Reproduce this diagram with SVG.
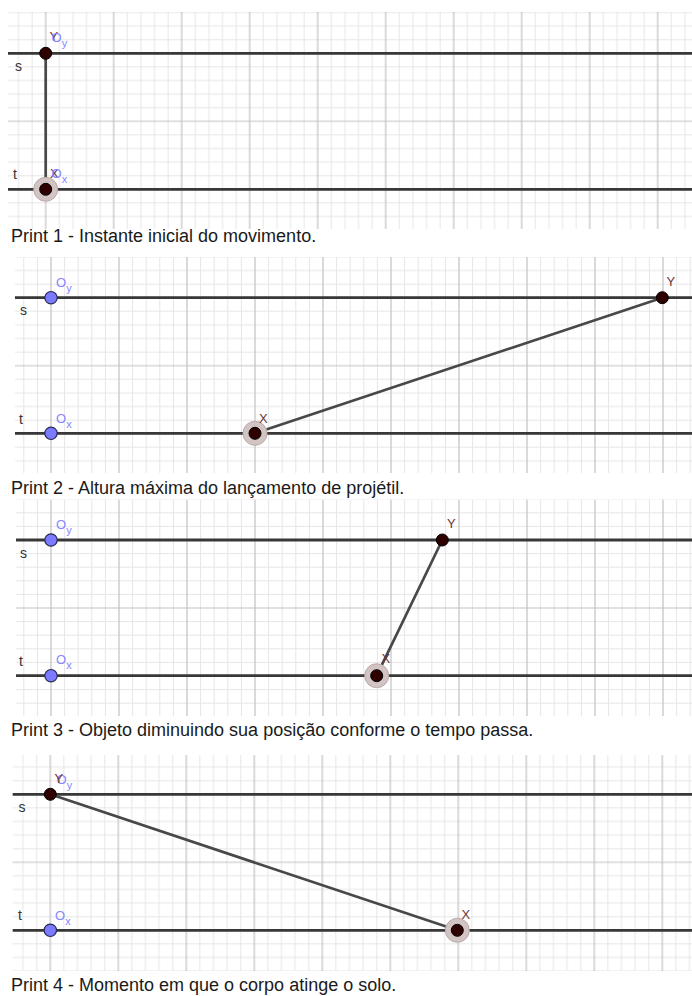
<svg xmlns="http://www.w3.org/2000/svg" width="692" height="996" viewBox="0 0 692 996">
<style>
.ln{stroke:#383838;stroke-width:2.8;fill:none}
.seg{stroke:#484848;stroke-width:2.7;fill:none;stroke-linecap:round}
.pt{fill:#2e0000;stroke:#000;stroke-width:1}
.op{fill:#7b7bff;stroke:#2a2a50;stroke-width:1.2}
.halo{fill:#d3c4c4;stroke:#bba9a9;stroke-width:1}
.lbl{font-family:"Liberation Sans",Arial,sans-serif;font-size:13px;fill:#6b3535}
.olbl{font-family:"Liberation Sans",Arial,sans-serif;font-size:13px;fill:#8585ff}
.sub{font-size:11px}
.ll{font-family:"Liberation Sans",Arial,sans-serif;font-size:14px;fill:#333}
.cap{font-family:"Liberation Sans",Arial,sans-serif;font-size:18px;fill:#1a1a1a}
</style>
<defs>
<g id="tile">
<path d="M6.8 0V68M20.4 0V68M47.6 0V68M61.2 0V68M0 6.8H68M0 20.4H68M0 47.6H68M0 61.2H68" stroke="#e6e6e6" stroke-width="1"/>
<path d="M34 0V68M0 34H68" stroke="#c2c2c2" stroke-width="1.2"/>
</g>
<pattern id="g1" patternUnits="userSpaceOnUse" x="11.7" y="19.3" width="68" height="68"><use href="#tile"/></pattern>
<pattern id="g2" patternUnits="userSpaceOnUse" x="17" y="263.7" width="68" height="68"><use href="#tile"/></pattern>
<pattern id="g3" patternUnits="userSpaceOnUse" x="17" y="506" width="68" height="68"><use href="#tile"/></pattern>
<pattern id="g4" patternUnits="userSpaceOnUse" x="16.3" y="760.3" width="68" height="68"><use href="#tile"/></pattern>
</defs>
<rect width="692" height="996" fill="#fff"/>

<!-- Panel 1 -->
<g id="panel1">
<rect x="8" y="12" width="684" height="217" fill="url(#g1)"/>
<path class="ln" d="M8 53.3H692M8 189.3H692"/>
<text class="ll" x="15" y="71">s</text>
<text class="ll" x="13" y="179">t</text>
<g id="p1-connectors"><path class="seg" d="M45.7 53.3V189.3"/></g>
<g id="p1-X"><circle class="halo" cx="45.7" cy="189.3" r="12"/><circle class="pt" cx="45.7" cy="189.3" r="6"/><text class="lbl" x="50" y="178">X</text></g>
<g id="p1-Ox"><text class="olbl" x="51.5" y="178">O<tspan class="sub" dy="5">x</tspan></text></g>
<g id="p1-Y"><circle class="pt" cx="45.7" cy="53.3" r="6"/><text class="lbl" x="49.5" y="41">Y</text></g>
<g id="p1-Oy"><text class="olbl" x="51.5" y="42">O<tspan class="sub" dy="5">y</tspan></text></g>
<text class="cap" x="11" y="241.5">Print 1 - Instante inicial do movimento.</text>
</g>

<!-- Panel 2 -->
<g id="panel2">
<rect x="15" y="257" width="677" height="216" fill="url(#g2)"/>
<path class="ln" d="M15 297.7H692M15 433.3H692"/>
<text class="ll" x="20" y="315">s</text>
<text class="ll" x="19" y="423.5">t</text>
<g id="p2-connectors"><path class="seg" d="M255 433.3L662.3 297.7"/></g>
<g id="p2-Oy"><circle class="op" cx="51" cy="297.7" r="6.2"/><text class="olbl" x="56" y="287">O<tspan class="sub" dy="5">y</tspan></text></g>
<g id="p2-Ox"><circle class="op" cx="51" cy="433.3" r="6.2"/><text class="olbl" x="56" y="423">O<tspan class="sub" dy="5">x</tspan></text></g>
<g id="p2-X"><circle class="halo" cx="255" cy="433.3" r="12"/><circle class="pt" cx="255" cy="433.3" r="6"/><text class="lbl" x="259" y="422.5">X</text></g>
<g id="p2-Y"><circle class="pt" cx="662.3" cy="297.7" r="6"/><text class="lbl" x="666.5" y="286">Y</text></g>
<text class="cap" x="11" y="493.5">Print 2 - Altura máxima do lançamento de projétil.</text>
</g>

<!-- Panel 3 -->
<g id="panel3">
<rect x="16" y="499.5" width="676" height="216.5" fill="url(#g3)"/>
<path class="ln" d="M16 540H692M16 675.7H692"/>
<text class="ll" x="20" y="557.5">s</text>
<text class="ll" x="19" y="665.7">t</text>
<g id="p3-connectors"><path class="seg" d="M376.7 675.7L442.3 540"/></g>
<g id="p3-Oy"><circle class="op" cx="51" cy="540" r="6.2"/><text class="olbl" x="56" y="528.5">O<tspan class="sub" dy="5">y</tspan></text></g>
<g id="p3-Ox"><circle class="op" cx="51" cy="675.7" r="6.2"/><text class="olbl" x="56" y="664">O<tspan class="sub" dy="5">x</tspan></text></g>
<g id="p3-X"><circle class="halo" cx="376.7" cy="675.7" r="12"/><circle class="pt" cx="376.7" cy="675.7" r="6"/><text class="lbl" x="381.5" y="663">X</text></g>
<g id="p3-Y"><circle class="pt" cx="442.3" cy="540" r="6"/><text class="lbl" x="447" y="528">Y</text></g>
<text class="cap" x="11" y="736">Print 3 - Objeto diminuindo sua posição conforme o tempo passa.</text>
</g>

<!-- Panel 4 -->
<g id="panel4">
<rect x="12.7" y="755" width="679.3" height="216" fill="url(#g4)"/>
<path class="ln" d="M12.7 794.3H692M12.7 930.3H692"/>
<text class="ll" x="18.5" y="811.7">s</text>
<text class="ll" x="18" y="920">t</text>
<g id="p4-connectors"><path class="seg" d="M50.3 794.3L457.3 930.3"/></g>
<g id="p4-Ox"><circle class="op" cx="50.3" cy="930.3" r="6.2"/><text class="olbl" x="55" y="919.5">O<tspan class="sub" dy="5">x</tspan></text></g>
<g id="p4-Oy"><text class="olbl" x="56.5" y="783.5">O<tspan class="sub" dy="5">y</tspan></text></g>
<g id="p4-Y"><circle class="pt" cx="50.3" cy="794.3" r="6"/><text class="lbl" x="54.5" y="783">Y</text></g>
<g id="p4-X"><circle class="halo" cx="457.3" cy="930.3" r="12"/><circle class="pt" cx="457.3" cy="930.3" r="6"/><text class="lbl" x="461.5" y="919">X</text></g>
<text class="cap" x="11" y="991">Print 4 - Momento em que o corpo atinge o solo.</text>
</g>
</svg>
